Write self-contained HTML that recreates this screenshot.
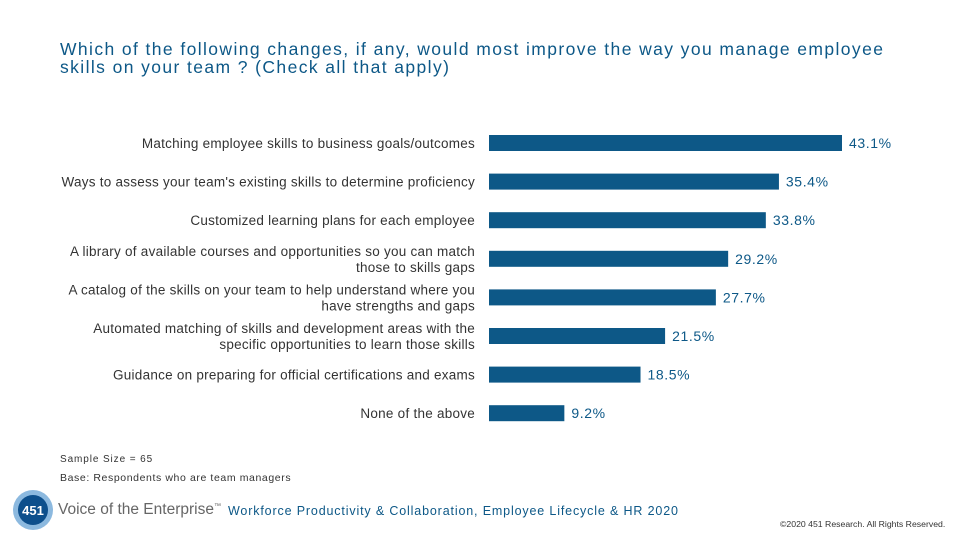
<!DOCTYPE html>
<html><head><meta charset="utf-8"><style>
body{margin:0;width:960px;height:540px;background:#fff;position:relative;overflow:hidden;font-family:"Liberation Sans",sans-serif;}
.t{position:absolute;}
</style></head><body>
<div class="t" style="left:60px;top:40px;width:845px;font-size:17.5px;line-height:18px;color:#0d5887;letter-spacing:1.4px;">Which of the following changes, if any, would most improve the way you manage employee skills on your team ? (Check all that apply)</div>
<svg id="chart" width="960" height="540" style="position:absolute;left:0;top:0"></svg>
<div class="t" style="left:60px;top:454px;font-size:10px;color:#333;letter-spacing:0.9px;">Sample Size = 65</div>
<div class="t" style="left:60px;top:472px;font-size:10.5px;color:#333;letter-spacing:0.6px;">Base: Respondents who are team managers</div>
<svg class="t" style="left:12px;top:489px" width="42" height="42"><circle cx="21" cy="21" r="20" fill="#5b9bd1" opacity="0.7"/><circle cx="21" cy="21" r="15" fill="#0d4f8c"/><text x="21" y="26" text-anchor="middle" font-size="13" font-weight="bold" fill="#fff" font-family="Liberation Sans">451</text></svg>
<div class="t" style="left:58px;top:501px;font-size:15.5px;color:#666;">Voice of the Enterprise<sup style="font-size:7px">™</sup></div>
<div class="t" style="left:228px;top:504px;font-size:12.5px;color:#0d5887;letter-spacing:0.85px;">Workforce Productivity &amp; Collaboration, Employee Lifecycle &amp; HR 2020</div>
<div class="t" style="left:780px;top:519px;font-size:8.7px;color:#333;">©2020 451 Research. All Rights Reserved.</div>
<script>
const categories=[["Matching employee skills to business goals/outcomes"],["Ways to assess your team's existing skills to determine proficiency"],["Customized learning plans for each employee"],["A library of available courses and opportunities so you can match","those to skills gaps"],["A catalog of the skills on your team to help understand where you","have strengths and gaps"],["Automated matching of skills and development areas with the","specific opportunities to learn those skills"],["Guidance on preparing for official certifications and exams"],["None of the above"]];
const values=[43.1,35.4,33.8,29.2,27.7,21.5,18.5,9.2];
const svg=document.getElementById('chart');const NS='http://www.w3.org/2000/svg';
const x0=489,pxPer=353/43.1,y0=143,step=38.6,bh=16;
const xs=v=>x0+v*pxPer, ys=i=>y0+i*step;
values.forEach((v,i)=>{
 const r=document.createElementNS(NS,'rect');
 r.setAttribute('x',x0);r.setAttribute('y',ys(i)-bh/2);r.setAttribute('width',xs(v)-x0);r.setAttribute('height',bh);r.setAttribute('fill','#0d5887');
 
 
 svg.appendChild(r);
 const t=document.createElementNS(NS,'text');
 t.setAttribute('x',xs(v)+7);t.setAttribute('y',ys(i)+5);t.setAttribute('font-size','14');t.setAttribute('letter-spacing','0.6');t.setAttribute('fill','#0d5887');t.setAttribute('font-family','Liberation Sans');
 t.textContent=v.toFixed(1)+'%';
 
 
 svg.appendChild(t);
 const lines=categories[i];
 lines.forEach((ln,j)=>{
  const c=document.createElementNS(NS,'text');
  c.setAttribute('x',475);c.setAttribute('y',ys(i)+5+(j-(lines.length-1)/2)*16);c.setAttribute('text-anchor','end');c.setAttribute('font-size','13.5');c.setAttribute('letter-spacing','0.25');c.setAttribute('fill','#333');c.setAttribute('font-family','Liberation Sans');
  c.textContent=ln;
  
  
  svg.appendChild(c);
 });
});
</script>
</body></html>
